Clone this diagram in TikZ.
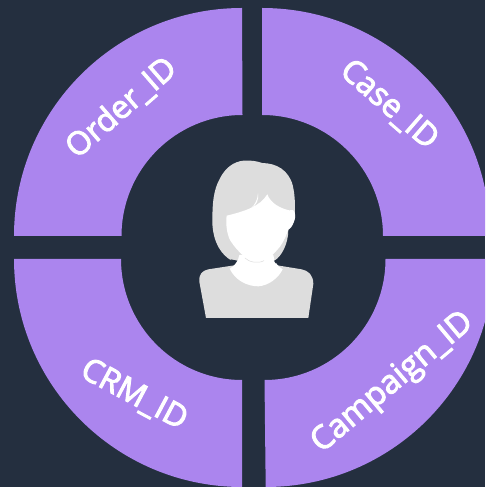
\documentclass[tikz,border=0pt]{standalone}
\usepackage{fontspec}
\setmainfont[FakeBold=3]{Open Sans}
\definecolor{bg}{HTML}{242F3F}
\definecolor{petal}{HTML}{AB85EE}
\definecolor{hair}{HTML}{DDDDDD}
\tikzset{
  sector/.style={fill=petal,draw=none},
  lab/.style={text=white,font=\fontsize{32}{32}\selectfont,inner sep=0pt,anchor=center},
}
\begin{document}
\begin{tikzpicture}[x=1pt,y=1pt]
\useasboundingbox (0,0) rectangle (485,487);
\fill[bg] (0,0) rectangle (485,487);
\begin{scope}
\clip (0,0) rectangle (485,487);
% top-left
\path[sector] (242,479) arc[start angle=90,end angle=180,radius=228] -- (121.5,251) arc[start angle=180,end angle=90,radius=121] -- cycle;
% top-right
\path[sector] (262,479) arc[start angle=90,end angle=0,radius=228] -- (383,251) arc[start angle=0,end angle=90,radius=121] -- cycle;
% bottom-left
\path[sector] (14,228) arc[start angle=180,end angle=270,radius=228] -- (242,107) arc[start angle=270,end angle=180,radius=121] -- cycle;
% bottom-right
\path[sector] (265.7,0) arc[start angle=270,end angle=360,radius=228] -- (385.5,228) arc[start angle=0,end angle=-90,radius=121] -- cycle;
\end{scope}
\node[lab,rotate=41] (order) at (121.5,379) {Order\_ID};
\node[lab,rotate=-41] (case) at (389,382) {Case\_ID};
\node[lab,rotate=-28] (crm) at (134,92) {CRM\_ID};
\node[lab,rotate=40,font=\fontsize{32.5}{33}\selectfont] (camp) at (393,104) {Campaign\_ID};
\begin{scope}[shift={(180,347)},x=0.3333pt,y=-0.3333pt]
% body
\fill[hair] (78,534) -- (385,534) -- (400,432) .. controls (400,405) and (385,392) .. (365,388) -- (285,375) -- (170,375) -- (85,388) .. controls (65,392) and (56,405) .. (58,425) -- cycle;
% hair
\fill[hair] (190,62) .. controls (212,60) and (232,64) .. (247,69) .. controls (290,70) and (325,90) .. (338,135) .. controls (345,165) and (345,190) .. (345,215) -- (325,270) .. controls (325,310) and (305,350) .. (283,362) -- (155,362) .. controls (125,345) and (100,310) .. (97,250) .. controls (97,190) and (100,150) .. (120,115) .. controls (135,85) and (160,65) .. (190,62) -- cycle;
% neck
\fill[white] (178,345) .. controls (175,362) and (165,378) .. (149,386) .. controls (165,420) and (200,439) .. (235,439) .. controls (265,437) and (295,415) .. (308,388) .. controls (292,378) and (282,365) .. (280,345) -- cycle;
% dark notches by the neck
\fill[bg] (152,358) -- (170,362) -- (158,372) -- cycle;
\fill[bg] (282,362) -- (292,360) -- (287,370) -- cycle;
% ear
\fill[white] (330,210) .. controls (345,205) and (350,225) .. (342,245) .. controls (338,258) and (330,268) .. (322,270) -- cycle;
% face
\fill[white] (140,227) .. controls (190,215) and (240,200) .. (262,163) .. controls (272,190) and (300,205) .. (331,212) .. controls (335,240) and (325,285) .. (300,320) .. controls (280,345) and (260,362) .. (245,365) -- (210,362) .. controls (190,350) and (165,325) .. (150,300) .. controls (140,280) and (137,250) .. (140,227) -- cycle;
\draw[hair,line width=0.5pt] (195,354) .. controls (205,366) and (235,372) .. (252,362);
% hair strand
\fill[white] (234,160) .. controls (233,178) and (225,195) .. (212,206) .. controls (228,197) and (238,180) .. (234,160) -- cycle;
\end{scope}
\end{tikzpicture}
\end{document}
